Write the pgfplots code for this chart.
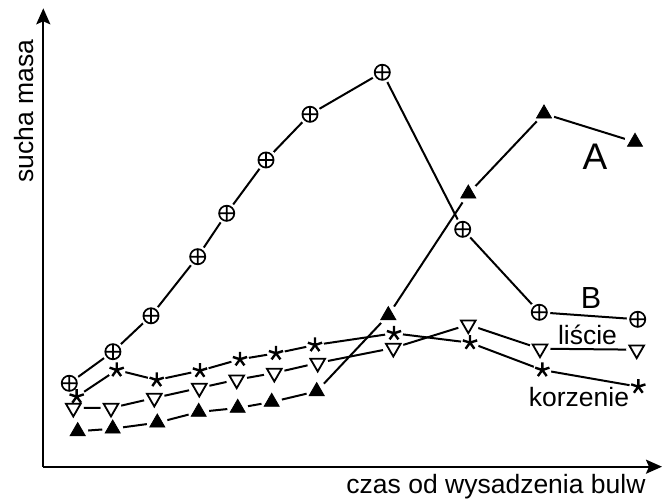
\documentclass[border=0pt]{standalone}
\usepackage{fontspec}
\setmainfont{Liberation Sans}
\usepackage{pgfplots}
\pgfplotsset{compat=1.18}
\usetikzlibrary{arrows.meta}
\pgfplotstableread{
x y
69.3 116.7
112.9 148.3
151 184.2
197.7 243.3
226.7 286.7
266 340
310 385.7
382.3 427.7
462.7 270.7
539.3 187.7
637.7 180.7
}\seriesB
\pgfplotstableread{
x y
77.7 68.7
112.7 71.3
157.3 77.3
198.7 88
237.7 92
271.7 98
316.7 108.7
388.3 184.7
468.3 306.3
544 386.3
635 358
}\seriesA
\pgfplotstableread{
x y
73.3 92
111 92
154.3 102
199.3 112
236.7 120.3
274.3 127
317.7 137
393.3 152
468.3 175.3
540 151.3
636.7 150.3
}\seriesL
\pgfplotstableread{
x y
76.7 103.3
116.7 130
156.7 120
200 129.3
240 140.7
276 146.7
315 155
394 166.7
470 157.3
542.3 130
638.3 113.3
}\seriesK
\begin{document}
\begin{tikzpicture}
\path[use as bounding box] (-43.3pt,-33.3pt) rectangle (618.7pt,466.7pt);
\begin{axis}[x=1pt,y=1pt,
  xmin=43.3,xmax=662,ymin=33.3,ymax=491.7,
  axis x line=bottom, axis y line=left,
  axis line style={line width=2.2pt,-{Stealth[length=16pt,width=14pt,inset=3pt]}},
  xtick=\empty, ytick=\empty, clip=false,
  every axis plot/.append style={line width=2pt, black},
  ]
% lines
\addplot[no marks] table {\seriesK};
\addplot[no marks] table {\seriesL};
\addplot[no marks] table {\seriesA};
\addplot[no marks] table {\seriesB};
% halos
\addplot[only marks, mark=*, mark size=8pt, mark options={draw=white,fill=white}] table {\seriesK};
\addplot[only marks, mark=*, mark size=9.5pt, mark options={draw=white,fill=white}] table {\seriesL};
\addplot[only marks, mark=*, mark size=9.5pt, mark options={draw=white,fill=white}] table {\seriesA};
\addplot[only marks, mark=*, mark size=10pt, mark options={draw=white,fill=white}] table {\seriesB};
% marks
\addplot[only marks, mark=star, mark size=7.5pt, mark options={line width=2.4pt}] table {\seriesK};
\addplot[only marks, mark=triangle*, mark size=8.5pt, mark options={rotate=180, fill=white, draw=black, line width=1.8pt}] table {\seriesL};
\addplot[only marks, mark=triangle*, mark size=8.7pt, mark options={fill=black, draw=black, line width=0.8pt}] table {\seriesA};
\addplot[only marks, mark=oplus*, mark size=7.6pt, mark options={fill=white, draw=black, line width=1.7pt}] table {\seriesB};
% labels
\node[anchor=base, font=\fontsize{37}{40}\selectfont] at (axis cs:595,330.7) {A};
\node[anchor=base, font=\fontsize{30.5}{33}\selectfont] at (axis cs:591,191.7) {B};
\node[anchor=base, font=\fontsize{26.5}{30}\selectfont] at (axis cs:587.5,155) {liście};
\node[anchor=base, font=\fontsize{26.5}{30}\selectfont] at (axis cs:579,93.3) {korzenie};
\node[anchor=base, font=\fontsize{26.5}{30}\selectfont] at (axis cs:496,6.7) {czas od wysadzenia bulw};
\node[anchor=base, rotate=90, font=\fontsize{26.5}{30}\selectfont] at (axis cs:33.3,389) {sucha masa};
\end{axis}
\end{tikzpicture}
\end{document}
